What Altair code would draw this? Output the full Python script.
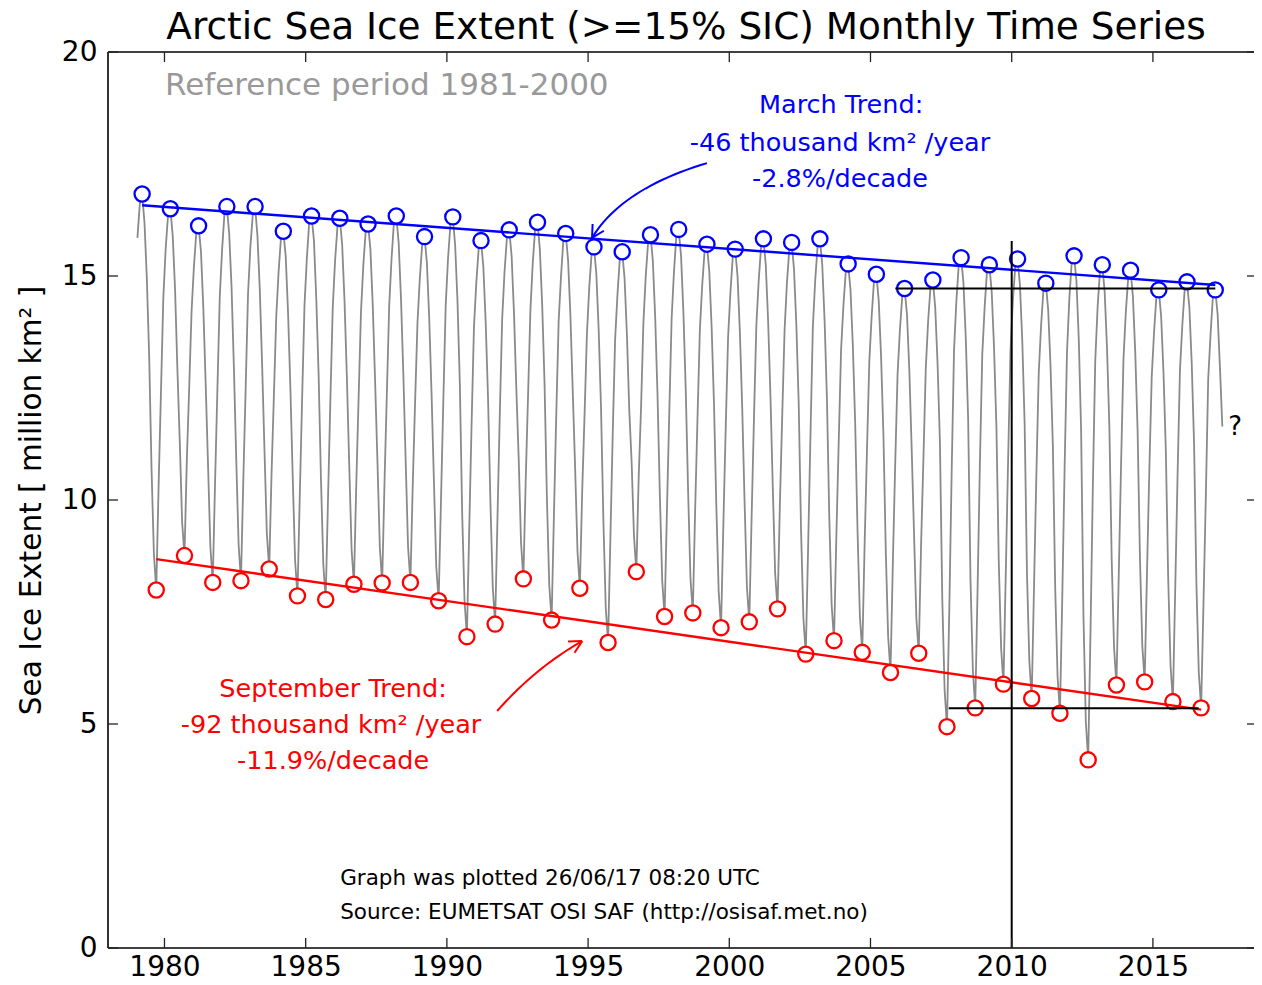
import altair as alt
import pandas as pd

# ---------------- data (million km^2) ----------------
years = list(range(1979, 2018))

jan = [15.85, 15.60, 15.20, 15.60, 15.65, 15.10, 15.40, 15.35, 15.25, 15.40, 14.95, 15.40, 14.85,
       15.10, 15.30, 15.00, 14.75, 14.60, 15.00, 15.10, 14.80, 14.65, 14.90, 14.85, 14.90, 14.35,
       14.10, 13.80, 14.00, 14.45, 14.30, 14.45, 13.90, 14.50, 14.30, 14.20, 13.75, 13.90, 13.70]
feb = [16.60, 16.35, 15.95, 16.40, 16.35, 15.85, 16.20, 16.10, 16.00, 16.20, 15.70, 16.15, 15.60,
       15.85, 16.05, 15.80, 15.50, 15.40, 15.75, 15.90, 15.55, 15.45, 15.65, 15.60, 15.65, 15.10,
       14.90, 14.55, 14.75, 15.25, 15.10, 15.20, 14.70, 15.30, 15.10, 14.95, 14.55, 14.70, 14.55]
mar = [16.83, 16.50, 16.12, 16.55, 16.55, 16.00, 16.34, 16.29, 16.16, 16.34, 15.88, 16.32, 15.79,
       16.03, 16.20, 15.95, 15.65, 15.54, 15.92, 16.04, 15.71, 15.60, 15.83, 15.75, 15.83, 15.27,
       15.04, 14.72, 14.91, 15.41, 15.25, 15.38, 14.84, 15.45, 15.25, 15.13, 14.69, 14.87, 14.69]
apr = [16.20, 15.90, 15.55, 15.95, 15.90, 15.45, 15.80, 15.70, 15.60, 15.75, 15.30, 15.70, 15.20,
       15.45, 15.60, 15.35, 15.05, 14.95, 15.35, 15.45, 15.10, 15.00, 15.25, 15.15, 15.25, 14.70,
       14.45, 14.15, 14.30, 14.85, 14.65, 14.80, 14.25, 14.90, 14.65, 14.55, 14.10, 14.30, 14.15]
may = [14.95, 14.70, 14.30, 14.75, 14.70, 14.20, 14.50, 14.45, 14.35, 14.50, 14.05, 14.45, 13.95,
       14.20, 14.35, 14.10, 13.80, 13.70, 14.10, 14.20, 13.85, 13.75, 14.00, 13.90, 14.00, 13.45,
       13.20, 12.90, 13.05, 13.60, 13.40, 13.55, 13.00, 13.60, 13.40, 13.30, 12.85, 13.05, 12.95]
jun = [13.20, 12.90, 12.60, 12.95, 13.00, 12.50, 12.80, 12.75, 12.65, 12.80, 12.35, 12.60, 12.25,
       12.50, 12.60, 12.40, 12.05, 12.00, 12.35, 12.45, 12.15, 12.05, 12.30, 12.15, 12.25, 11.70,
       11.45, 11.15, 11.30, 11.80, 11.65, 11.70, 11.20, 11.55, 11.65, 11.55, 11.10, 11.25, 11.64]
jul = [10.70, 11.30, 10.80, 10.90, 11.10, 10.50, 10.45, 10.80, 10.85, 10.85, 10.40, 9.70, 9.95,
       10.95, 10.05, 10.70, 9.55, 10.85, 10.10, 10.20, 9.85, 9.95, 10.25, 9.30, 9.60, 9.30,
       8.85, 9.25, 7.80, 8.20, 8.65, 8.35, 8.00, 7.40, 8.65, 8.70, 8.25, 8.10]
aug = [8.80, 9.50, 8.95, 9.00, 9.25, 8.65, 8.55, 8.90, 8.95, 8.95, 8.50, 7.75, 8.05,
       9.05, 8.10, 8.85, 7.60, 9.20, 8.20, 8.25, 7.95, 8.05, 8.35, 7.35, 7.65, 7.40,
       6.95, 7.35, 5.75, 6.20, 6.70, 6.40, 6.05, 5.05, 6.70, 6.75, 6.30, 6.15]
sep = [7.99, 8.76, 8.16, 8.20, 8.46, 7.86, 7.78, 8.12, 8.15, 8.16, 7.75, 6.95, 7.23,
       8.24, 7.32, 8.03, 6.82, 8.40, 7.40, 7.48, 7.15, 7.28, 7.57, 6.56, 6.86, 6.60,
       6.15, 6.58, 4.94, 5.36, 5.89, 5.57, 5.24, 4.20, 5.87, 5.94, 5.50, 5.36]
oct_ = [10.30, 10.90, 10.40, 10.45, 10.60, 10.10, 10.05, 10.35, 10.40, 10.35, 10.00, 9.35, 9.60,
        10.45, 9.70, 10.20, 9.20, 10.50, 9.75, 9.80, 9.50, 9.65, 9.90, 8.95, 9.20, 9.00,
        8.60, 9.00, 7.60, 8.00, 8.40, 8.10, 7.85, 7.10, 8.35, 8.40, 8.05, 7.70]
nov = [12.40, 12.50, 12.50, 12.50, 12.35, 12.30, 12.25, 12.30, 12.40, 12.20, 12.25, 11.70, 11.95,
       12.35, 11.95, 11.90, 11.55, 12.05, 11.95, 11.85, 11.65, 11.85, 11.90, 11.45, 11.30, 11.10,
       10.80, 10.95, 10.65, 10.85, 10.95, 10.60, 10.75, 10.35, 10.85, 10.70, 10.60, 10.10]
dec = [14.50, 14.20, 14.55, 14.60, 14.10, 14.35, 14.30, 14.20, 14.35, 13.95, 14.35, 13.85, 14.05,
       14.25, 14.00, 13.70, 13.60, 13.95, 14.05, 13.80, 13.65, 13.90, 13.80, 13.85, 13.35, 13.10,
       12.80, 12.95, 13.35, 13.25, 13.35, 12.85, 13.30, 13.10, 13.15, 12.75, 12.90, 12.70]

# trend lines (end points)
march_trend_t = [1979.21, 2017.21]
march_trend_v = [16.58, 14.80]
sept_trend_t = [1979.71, 2016.71]
sept_trend_v = [8.68, 5.32]

# black reference lines
ref_t = [2005.88, 2007.77, 2010.0]
ref_t2 = [2017.21, 2016.62, 2010.0]
ref_v = [14.72, 5.35, 0.0]
ref_v2 = [14.72, 5.35, 15.78]

x_ticks = [1980, 1985, 1990, 1995, 2000, 2005, 2010, 2015]
y_ticks = [0, 5, 10, 15, 20]

title_text = ["Arctic Sea Ice Extent (>=15% SIC) Monthly Time Series"]

# annotation texts (positions in data units)
center_labels = ["March Trend:", "-46 thousand km² /year", "-2.8%/decade",
                 "September Trend:", "-92 thousand km² /year", "-11.9%/decade", "?"]
center_t = [2003.96, 2003.92, 2003.92, 1985.97, 1985.90, 1985.97, 2017.91]
center_v = [18.82, 17.97, 17.17, 5.78, 4.98, 4.17, 11.63]
center_col = ["#0000ff", "#0000ff", "#0000ff", "#ff0000", "#ff0000", "#ff0000", "#000000"]
center_size = [25.5, 25.5, 25.5, 25.5, 25.5, 25.5, 26]

left_labels = ["Reference period 1981-2000", "Graph was plotted 26/06/17 08:20 UTC",
               "Source: EUMETSAT OSI SAF (http://osisaf.met.no)"]
left_t = [1980.02, 1986.22, 1986.22]
left_v = [19.24, 1.54, 0.78]
left_col = ["#999999", "#000000", "#000000"]
left_size = [31, 21.5, 21.5]

# curved annotation arrows: start, control, tip (data units)
arrow_p0 = [(1999.21, 17.52), (1991.78, 5.29)]
arrow_c = [(1996.19, 16.95), (1993.12, 6.25)]
arrow_p2 = [(1995.14, 15.85), (1994.79, 6.85)]
arrow_w1 = [(1995.56, 16.01), (1994.29, 6.84)]
arrow_w2 = [(1995.16, 16.16), (1994.52, 6.59)]
arrow_col = ["#0000ff", "#ff0000"]

# ---------------- tables ----------------
months = [jan, feb, mar, apr, may, jun, jul, aug, sep, oct_, nov, dec]
rows = []
for i, yr in enumerate(years):
    for m, arr in enumerate(months):
        if i < len(arr):
            rows.append({"t": yr + (m + 0.5) / 12.0, "v": arr[i]})
monthly = pd.DataFrame(rows)

march_df = pd.DataFrame({"t": [y + 2.5 / 12 for y in years[:len(mar)]], "v": mar})
sept_df = pd.DataFrame({"t": [y + 8.5 / 12 for y in years[:len(sep)]], "v": sep})

trend_df = pd.DataFrame({
    "t": [march_trend_t[0], sept_trend_t[0]], "t2": [march_trend_t[1], sept_trend_t[1]],
    "v": [march_trend_v[0], sept_trend_v[0]], "v2": [march_trend_v[1], sept_trend_v[1]],
    "c": ["#0000ff", "#ff0000"]})
ref_df = pd.DataFrame({"t": ref_t, "t2": ref_t2, "v": ref_v, "v2": ref_v2})

center_df = pd.DataFrame({"t": center_t, "v": center_v, "label": center_labels,
                          "c": center_col, "s": center_size})
left_df = pd.DataFrame({"t": left_t, "v": left_v, "label": left_labels,
                        "c": left_col, "s": left_size})
title_df = pd.DataFrame({"label": title_text})
one_df = pd.DataFrame({"k": [0]})

curve_rows, head_rows = [], []
for k in range(len(arrow_p0)):
    (x0, y0), (xc, yc), (x2, y2) = arrow_p0[k], arrow_c[k], arrow_p2[k]
    n = 24
    for j in range(n + 1):
        s = j / n
        curve_rows.append({"arrow": k, "o": j, "c": arrow_col[k],
                           "t": (1 - s) ** 2 * x0 + 2 * (1 - s) * s * xc + s ** 2 * x2,
                           "v": (1 - s) ** 2 * y0 + 2 * (1 - s) * s * yc + s ** 2 * y2})
    for w in (arrow_w1[k], arrow_w2[k]):
        head_rows.append({"t": x2, "v": y2, "t2": w[0], "v2": w[1], "c": arrow_col[k]})
curve_df = pd.DataFrame(curve_rows)
head_df = pd.DataFrame(head_rows)

xtick_df = pd.DataFrame({"t": x_ticks})
ytick_df = pd.DataFrame({"v": y_ticks})

# ---------------- chart ----------------
# plot area: 1146 px wide (28.24 px per year), 896 px high (44.8 px per million km^2)
W, H = 1146, 896
FONT = "DejaVu Sans"
xs = alt.Scale(domain=[1978, 2018.58], nice=False, zero=False)
ys = alt.Scale(domain=[0, 20], nice=False, zero=True)
x_axis = alt.Axis(values=x_ticks, format="d", title=None, ticks=False, tickSize=0, domain=False,
                  grid=False, labelFontSize=28, labelFont=FONT, labelColor="black",
                  labelBaseline="alphabetic", labelPadding=27, labelFlush=False)
y_axis = alt.Axis(values=y_ticks, title="Sea Ice Extent [ million km² ]", ticks=False, tickSize=0,
                  domain=False, grid=False, labelFontSize=28, labelFont=FONT,
                  labelColor="black", labelPadding=11, titleFontSize=29.5, titleFont=FONT,
                  titleFontWeight="normal", titleColor="black", titleAngle=270,
                  titleBaseline="alphabetic", titleAlign="center", titleX=-68, titleY=H / 2)
X = alt.X("t:Q", scale=xs, axis=x_axis)
Y = alt.Y("v:Q", scale=ys, axis=y_axis)

base_line = alt.Chart(monthly).mark_line(color="#8a8a8a", strokeWidth=1.8).encode(
    x=X, y=Y, order="t:Q")

march_pts = alt.Chart(march_df).mark_point(
    shape="circle", filled=True, fill="white", fillOpacity=1, stroke="#0000ff",
    strokeWidth=2.3, size=230, opacity=1).encode(x=X, y=Y)
sept_pts = alt.Chart(sept_df).mark_point(
    shape="circle", filled=True, fill="white", fillOpacity=1, stroke="#ff0000",
    strokeWidth=2.3, size=230, opacity=1).encode(x=X, y=Y)

trends = alt.Chart(trend_df).mark_rule(strokeWidth=2.4).encode(
    x=X, y=Y, x2="t2:Q", y2="v2:Q", color=alt.Color("c:N", scale=None))

refs = alt.Chart(ref_df).mark_rule(color="black", strokeWidth=2).encode(
    x=X, y=Y, x2="t2:Q", y2="v2:Q")

curves = alt.Chart(curve_df).mark_line(strokeWidth=2).encode(
    x=X, y=Y, detail="arrow:N", order="o:Q", color=alt.Color("c:N", scale=None))
heads = alt.Chart(head_df).mark_rule(strokeWidth=2).encode(
    x=X, y=Y, x2="t2:Q", y2="v2:Q", color=alt.Color("c:N", scale=None))

center_txt = alt.Chart(center_df).mark_text(font=FONT, align="center", baseline="middle").encode(
    x=X, y=Y, text="label:N", color=alt.Color("c:N", scale=None),
    size=alt.Size("s:Q", scale=None))
left_txt = alt.Chart(left_df).mark_text(font=FONT, align="left", baseline="middle").encode(
    x=X, y=Y, text="label:N", color=alt.Color("c:N", scale=None),
    size=alt.Size("s:Q", scale=None))

title_txt = alt.Chart(title_df).mark_text(
    font=FONT, fontSize=37.4, color="black", align="center", baseline="alphabetic").encode(
    x=alt.value(578), y=alt.value(-13), text="label:N")

# frame: left, top and bottom spines (the right one lies just past the picture's edge)
spine_style = dict(color="black", strokeWidth=1.6)
spine_left = alt.Chart(one_df).mark_rule(**spine_style).encode(
    x=alt.value(0), y=alt.value(0), y2=alt.value(H))
spine_top = alt.Chart(one_df).mark_rule(**spine_style).encode(
    y=alt.value(0), x=alt.value(0), x2=alt.value(W))
spine_bottom = alt.Chart(one_df).mark_rule(**spine_style).encode(
    y=alt.value(H), x=alt.value(0), x2=alt.value(W))

tick_style = dict(color="#222222", strokeWidth=1.3)
xt_bottom = alt.Chart(xtick_df).mark_rule(**tick_style).encode(
    x=X, y=alt.value(H), y2=alt.value(H - 10))
xt_top = alt.Chart(xtick_df).mark_rule(**tick_style).encode(
    x=X, y=alt.value(0), y2=alt.value(10))
yt_left = alt.Chart(ytick_df).mark_rule(**tick_style).encode(
    y=Y, x=alt.value(0), x2=alt.value(10))
yt_right = alt.Chart(ytick_df).mark_rule(**tick_style).encode(
    y=Y, x=alt.value(W), x2=alt.value(W - 7))

chart = alt.layer(
    base_line, march_pts, sept_pts, trends, refs, curves, heads,
    center_txt, left_txt, title_txt, spine_left, spine_top, spine_bottom,
    xt_bottom, xt_top, yt_left, yt_right
).properties(
    width=W, height=H,
    autosize=alt.AutoSizeParams(type="none"),
    padding={"left": 100, "top": 44, "right": 0, "bottom": 29},
).configure_view(strokeWidth=0)

chart.save("out.html", embed_options={"renderer": "svg", "actions": False})
